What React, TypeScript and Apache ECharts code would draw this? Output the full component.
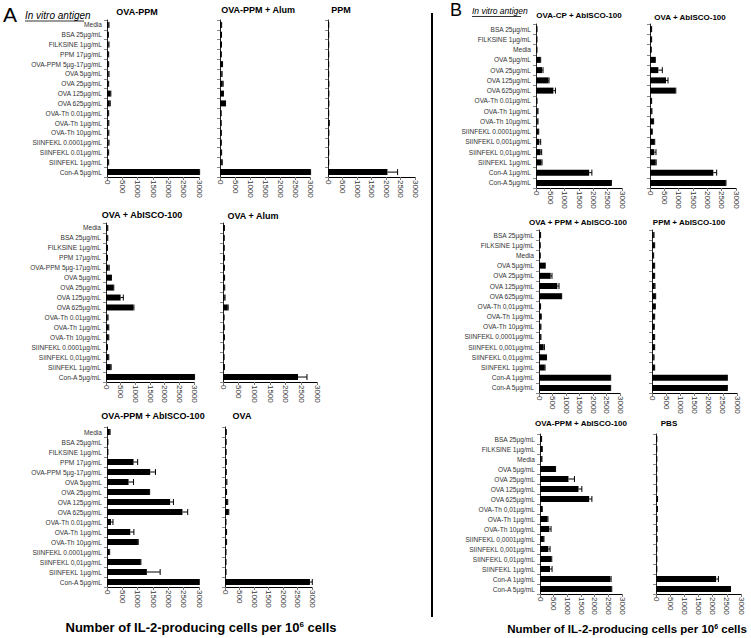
import React, { useEffect, useRef } from "react";
import * as echarts from "echarts";

// ---------- categories ----------
const catsA1 = ["Media", "BSA 25µg/mL", "FILKSINE 1µg/mL", "PPM 17µg/mL", "OVA-PPM 5µg-17µg/mL", "OVA 5µg/mL", "OVA 25µg/mL", "OVA 125µg/mL", "OVA 625µg/mL", "OVA-Th 0.01µg/mL", "OVA-Th 1µg/mL", "OVA-Th 10µg/mL", "SIINFEKL 0.0001µg/mL", "SIINFEKL 0.01µg/mL", "SIINFEKL 1µg/mL", "Con-A 5µg/mL"];
const catsA = ["Media", "BSA 25µg/mL", "FILKSINE 1µg/mL", "PPM 17µg/mL", "OVA-PPM 5µg-17µg/mL", "OVA 5µg/mL", "OVA 25µg/mL", "OVA 125µg/mL", "OVA 625µg/mL", "OVA-Th 0.01µg/mL", "OVA-Th 1µg/mL", "OVA-Th 10µg/mL", "SIINFEKL 0.0001µg/mL", "SIINFEKL 0,01µg/mL", "SIINFEKL 1µg/mL", "Con-A 5µg/mL"];
const catsB1 = ["BSA 25µg/mL", "FILKSINE 1µg/mL", "Media", "OVA 5µg/mL", "OVA 25µg/mL", "OVA 125µg/mL", "OVA 625µg/mL", "OVA-Th 0.01µg/mL", "OVA-Th 1µg/mL", "OVA-Th 10µg/mL", "SIINFEKL 0.0001µg/mL", "SIINFEKL 0,001µg/mL", "SIINFEKL 0,01µg/mL", "SIINFEKL 1µg/mL", "Con-A 1µg/mL", "Con-A 5µg/mL"];
const catsB = ["BSA 25µg/mL", "FILKSINE 1µg/mL", "Media", "OVA 5µg/mL", "OVA 25µg/mL", "OVA 125µg/mL", "OVA 625µg/mL", "OVA-Th 0,01µg/mL", "OVA-Th 1µg/mL", "OVA-Th 10µg/mL", "SIINFEKL 0,0001µg/mL", "SIINFEKL 0,001µg/mL", "SIINFEKL 0,01µg/mL", "SIINFEKL 1µg/mL", "Con-A 1µg/mL", "Con-A 5µg/mL"];

const xTicks = [0, 500, 1000, 1500, 2000, 2500, 3000];

// ---------- values (mean) and upper error bounds ----------
const ovaPpmVals = [50, 30, 50, 40, 40, 50, 40, 110, 90, 40, 45, 45, 50, 40, 40, 3000];
const ovaPpmErr = [65, 45, 65, 55, 55, 65, 55, 125, 105, 55, 60, 60, 65, 55, 55, 3020];
const ovaPpmAlumVals = [40, 35, 35, 30, 70, 55, 90, 100, 170, 25, 25, 30, 30, 40, 60, 3000];
const ovaPpmAlumErr = [55, 50, 50, 45, 85, 70, 105, 115, 185, 40, 40, 45, 45, 55, 75, 3020];
const ppmVals = [15, 15, 15, 15, 15, 15, 20, 20, 20, 15, 35, 20, 15, 15, 15, 2050];
const ppmErr = [25, 25, 25, 25, 25, 25, 30, 30, 30, 25, 45, 30, 25, 25, 25, 2400];
const ovaAbiscoVals = [45, 45, 35, 35, 90, 170, 250, 498, 928, 57, 80, 80, 35, 80, 160, 3000];
const ovaAbiscoErr = [60, 60, 50, 50, 110, 185, 265, 590, 951, 70, 95, 95, 50, 95, 175, 3020];
const ovaAlumVals = [30, 25, 25, 30, 30, 35, 40, 50, 150, 20, 25, 30, 20, 20, 30, 2394];
const ovaAlumErr = [45, 40, 40, 45, 45, 50, 55, 65, 165, 35, 40, 45, 35, 35, 45, 2680];
const ovaPpmAbiscoVals = [90, 20, 20, 866, 1408, 704, 1375, 2058, 2460, 130, 758, 1007, 65, 1094, 1300, 3000];
const ovaPpmAbiscoErr = [100, 30, 30, 1000, 1580, 866, 1390, 2166, 2632, 195, 877, 1018, 87, 1105, 1733, 3010];
const ovaVals = [30, 25, 25, 30, 30, 50, 40, 80, 115, 20, 40, 40, 20, 20, 20, 2930];
const ovaErr = [45, 40, 40, 45, 45, 65, 55, 95, 130, 35, 55, 55, 35, 35, 35, 3010];

const ovaCpAbiscoVals = [23, 23, 23, 140, 210, 432, 607, 23, 58, 58, 82, 117, 163, 187, 1856, 2615];
const ovaCpAbiscoErr = [35, 35, 35, 163, 245, 455, 677, 35, 70, 70, 95, 163, 198, 210, 1949, 2630];
const ovaAbiscoBVals = [47, 47, 35, 174, 291, 558, 884, 47, 58, 116, 70, 151, 151, 198, 2209, 2640];
const ovaAbiscoBErr = [57, 57, 45, 185, 430, 628, 900, 57, 68, 126, 80, 165, 209, 215, 2326, 2650];
const ovaPlusPpmAbiscoVals = [49, 37, 37, 222, 432, 679, 827, 49, 74, 62, 62, 173, 259, 210, 2642, 2642];
const ovaPlusPpmAbiscoErr = [59, 47, 47, 232, 481, 741, 840, 59, 84, 72, 72, 200, 280, 225, 2655, 2655];
const ppmAbiscoVals = [60, 82, 47, 82, 82, 94, 118, 106, 82, 70, 82, 82, 60, 82, 2647, 2647];
const ppmAbiscoErr = [72, 94, 59, 94, 94, 106, 130, 118, 94, 82, 94, 94, 72, 94, 2660, 2660];
const ovaPpmAbiscoBVals = [49, 73, 61, 551, 1041, 1408, 1800, 73, 269, 343, 135, 306, 404, 367, 2571, 2608];
const ovaPpmAbiscoBErr = [59, 83, 71, 570, 1261, 1531, 1898, 83, 290, 404, 145, 367, 430, 441, 2600, 2625];
const pbsVals = [20, 20, 20, 20, 20, 20, 45, 40, 30, 30, 30, 20, 20, 20, 2121, 2613];
const pbsErr = [30, 30, 30, 30, 30, 30, 55, 50, 40, 40, 40, 30, 30, 30, 2203, 2630];

const titles = ["OVA-PPM", "OVA-PPM + Alum", "PPM", "OVA + AbISCO-100", "OVA + Alum", "OVA-PPM + AbISCO-100", "OVA", "OVA-CP + AbISCO-100", "OVA + AbISCO-100", "OVA + PPM + AbISCO-100", "PPM + AbISCO-100", "OVA-PPM + AbISCO-100", "PBS"];
const xAxisTitle = "Number of IL-2-producing cells per 10";

// ---------- layout (positions only) ----------
type Panel = { left: number; top: number; width: number; height: number; labels: boolean; cats: string[]; vals: number[]; errs: number[]; tx: number; ty: number; tsize: number };
const panels: Panel[] = [
  { left: 107, top: 20, width: 92, height: 157, labels: true, cats: catsA1, vals: ovaPpmVals, errs: ovaPpmErr, tx: 137, ty: 12, tsize: 9 },
  { left: 220, top: 20, width: 90, height: 157, labels: false, cats: catsA1, vals: ovaPpmAlumVals, errs: ovaPpmAlumErr, tx: 258, ty: 10, tsize: 9 },
  { left: 328, top: 20, width: 87, height: 157, labels: false, cats: catsA1, vals: ppmVals, errs: ppmErr, tx: 341, ty: 10, tsize: 9 },
  { left: 106, top: 223, width: 88, height: 159, labels: true, cats: catsA, vals: ovaAbiscoVals, errs: ovaAbiscoErr, tx: 142, ty: 215, tsize: 9 },
  { left: 223, top: 223, width: 94, height: 159, labels: false, cats: catsA, vals: ovaAlumVals, errs: ovaAlumErr, tx: 253, ty: 216, tsize: 9 },
  { left: 107, top: 427, width: 92, height: 160, labels: true, cats: catsA, vals: ovaPpmAbiscoVals, errs: ovaPpmAbiscoErr, tx: 153, ty: 416, tsize: 9 },
  { left: 225, top: 427, width: 87, height: 160, labels: false, cats: catsA, vals: ovaVals, errs: ovaErr, tx: 242, ty: 416, tsize: 9 },
  { left: 536, top: 24, width: 86, height: 164, labels: true, cats: catsB1, vals: ovaCpAbiscoVals, errs: ovaCpAbiscoErr, tx: 579, ty: 15, tsize: 8 },
  { left: 650, top: 24, width: 86, height: 164, labels: false, cats: catsB1, vals: ovaAbiscoBVals, errs: ovaAbiscoBErr, tx: 690, ty: 17, tsize: 8 },
  { left: 539, top: 230, width: 81, height: 163, labels: true, cats: catsB, vals: ovaPlusPpmAbiscoVals, errs: ovaPlusPpmAbiscoErr, tx: 578, ty: 222, tsize: 8 },
  { left: 652, top: 230, width: 85, height: 163, labels: false, cats: catsB, vals: ppmAbiscoVals, errs: ppmAbiscoErr, tx: 689, ty: 222, tsize: 8 },
  { left: 540, top: 434, width: 82, height: 160, labels: true, cats: catsB, vals: ovaPpmAbiscoBVals, errs: ovaPpmAbiscoBErr, tx: 581, ty: 423, tsize: 8 },
  { left: 656, top: 434, width: 85, height: 160, labels: false, cats: catsB, vals: pbsVals, errs: pbsErr, tx: 669, ty: 423, tsize: 8 },
];

const FONT = "Liberation Sans, Arial, sans-serif";

export default function App() {
  const ref = useRef<HTMLDivElement>(null);
  useEffect(() => {
    if (!ref.current) return;
    const chart = echarts.init(ref.current, undefined, { renderer: "svg" });
    const grid: any[] = [];
    const xAxis: any[] = [];
    const yAxis: any[] = [];
    const series: any[] = [];
    const graphic: any[] = [];
    panels.forEach((p, i) => {
      grid.push({ left: p.left, top: p.top, width: p.width, height: p.height, containLabel: false, outerBoundsMode: "none" });
      xAxis.push({
        type: "value", gridIndex: i, min: xTicks[0], max: xTicks[xTicks.length - 1], interval: 500,
        splitLine: { show: false },
        axisLine: { show: true, lineStyle: { color: "#000", width: 1 } },
        axisTick: { show: true, length: 3, lineStyle: { color: "#777" } },
        axisLabel: { rotate: -90, fontSize: 8, color: "#333", fontFamily: FONT, margin: 3, formatter: (v: number) => String(v) },
      });
      yAxis.push({
        type: "category", gridIndex: i, data: p.cats, inverse: true,
        axisLine: { show: true, lineStyle: { color: "#222", width: 1 } },
        axisTick: { show: true, length: 3, lineStyle: { color: "#888" } },
        axisLabel: { show: p.labels, fontSize: 6.6, color: "#333", fontFamily: FONT, margin: 5, interval: 0 },
      });
      series.push({
        type: "bar", xAxisIndex: i, yAxisIndex: i, data: p.vals, barWidth: 6,
        itemStyle: { color: "#000" }, silent: true,
      });
      series.push({
        type: "custom", xAxisIndex: i, yAxisIndex: i, silent: true,
        data: p.vals.map((v, k) => [v, k, p.errs[k]]),
        encode: { x: [0, 2], y: 1 },
        renderItem: (params: any, api: any) => {
          const v = api.value(0), k = api.value(1), e = api.value(2);
          const a = api.coord([v, k]);
          const b = api.coord([e, k]);
          return {
            type: "group",
            children: [
              { type: "line", shape: { x1: a[0], y1: a[1], x2: b[0], y2: b[1] }, style: { stroke: "#000", lineWidth: 1 } },
              { type: "line", shape: { x1: b[0], y1: b[1] - 3, x2: b[0], y2: b[1] + 3 }, style: { stroke: "#000", lineWidth: 1 } },
            ],
          };
        },
      });
      graphic.push({
        type: "text", x: p.tx, y: p.ty,
        style: { text: titles[i], fontSize: p.tsize, fontWeight: "bold", fontFamily: FONT, fill: "#000", textAlign: "center", textVerticalAlign: "middle" },
      });
    });

    // panel letters & headers
    graphic.push({ type: "text", x: 3, y: 14, style: { text: "A", fontSize: 21, fontFamily: FONT, fill: "#000", textVerticalAlign: "middle" } });
    graphic.push({ type: "text", x: 25, y: 15, style: { text: "In vitro antigen", fontSize: 10, fontStyle: "italic", fontFamily: FONT, fill: "#000", textVerticalAlign: "middle" } });
    graphic.push({ type: "line", shape: { x1: 25, y1: 21, x2: 84, y2: 21 }, style: { stroke: "#000", lineWidth: 0.8 } });
    graphic.push({ type: "text", x: 450, y: 10, style: { text: "B", fontSize: 18, fontFamily: FONT, fill: "#000", textVerticalAlign: "middle" } });
    graphic.push({ type: "text", x: 472, y: 11, style: { text: "In vitro antigen", fontSize: 8.5, fontStyle: "italic", fontFamily: FONT, fill: "#000", textVerticalAlign: "middle" } });
    graphic.push({ type: "line", shape: { x1: 472, y1: 16.5, x2: 521, y2: 16.5 }, style: { stroke: "#000", lineWidth: 0.8 } });
    // divider
    graphic.push({ type: "line", shape: { x1: 432, y1: 13, x2: 432, y2: 617 }, style: { stroke: "#000", lineWidth: 2 } });
    // bottom axis titles
    graphic.push({
      type: "text", x: 201, y: 627,
      style: {
        text: xAxisTitle + "{sup|6} cells", fontSize: 13, fontWeight: "bold", fontFamily: FONT, fill: "#000",
        textAlign: "center", textVerticalAlign: "middle",
        rich: { sup: { fontSize: 8, fontWeight: "bold", fontFamily: FONT, verticalAlign: "top", padding: [0, 0, 6, 0] } },
      },
    });
    graphic.push({
      type: "text", x: 627, y: 629,
      style: {
        text: xAxisTitle + "{sup|6} cells", fontSize: 11.5, fontWeight: "bold", fontFamily: FONT, fill: "#000",
        textAlign: "center", textVerticalAlign: "middle",
        rich: { sup: { fontSize: 7, fontWeight: "bold", fontFamily: FONT, verticalAlign: "top", padding: [0, 0, 5, 0] } },
      },
    });

    chart.setOption({ animation: false, backgroundColor: "#fff", grid, xAxis, yAxis, series, graphic });
    return () => chart.dispose();
  }, []);
  return <div ref={ref} style={{ position: "fixed", left: 0, top: 0, width: 751, height: 638 }} />;
}
